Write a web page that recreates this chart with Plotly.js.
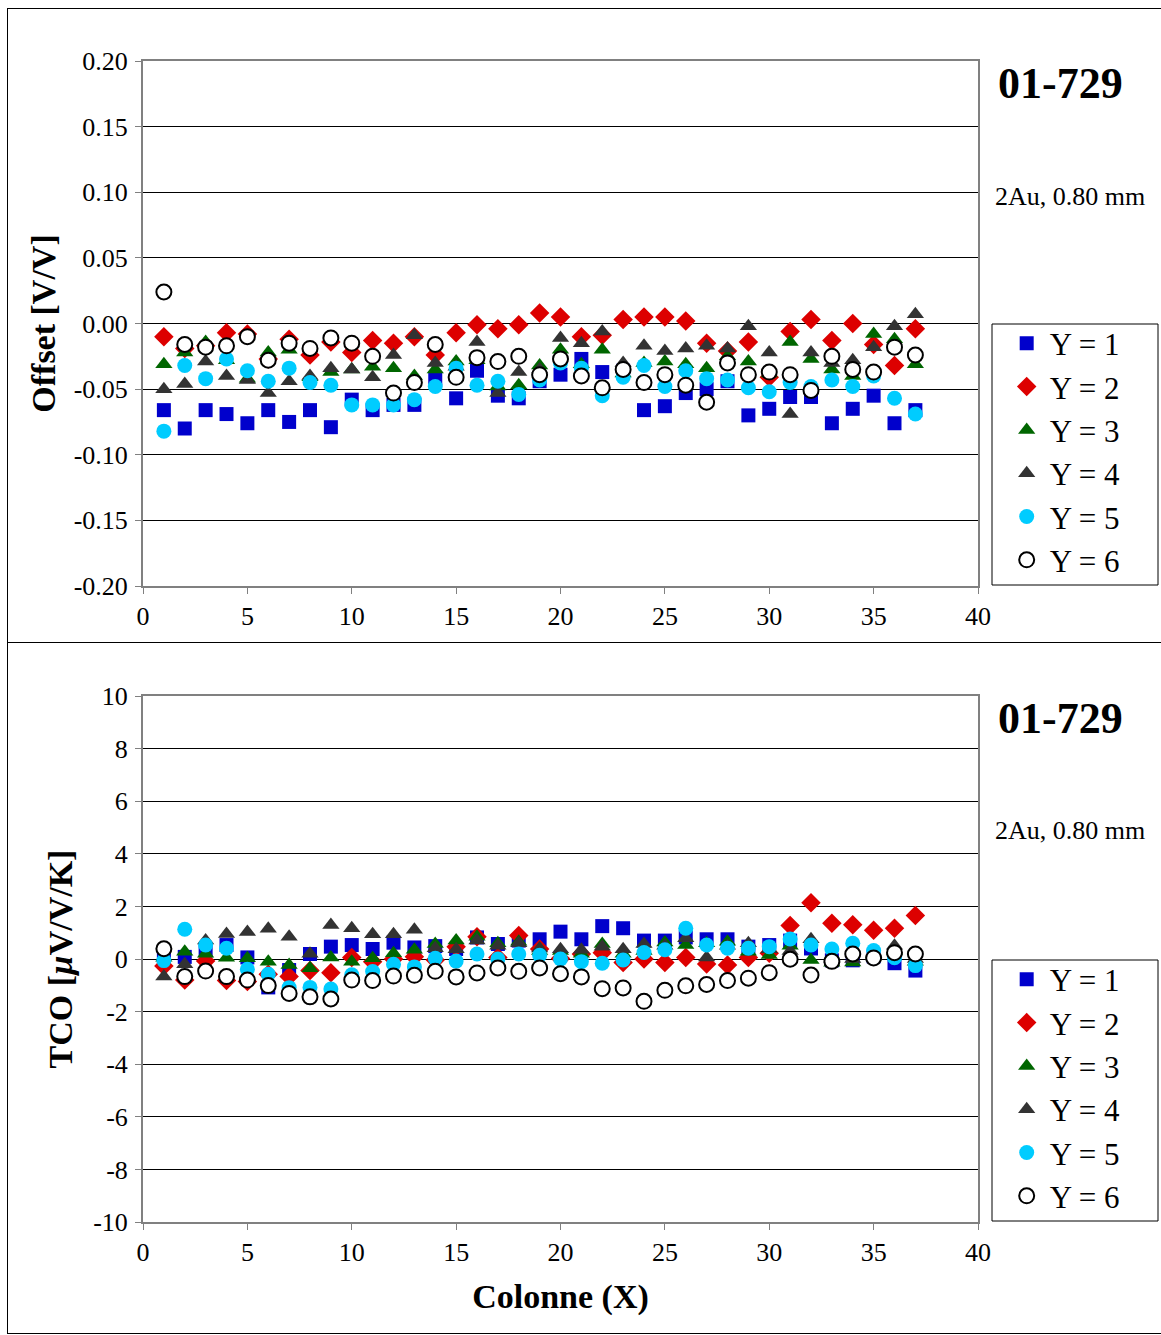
<!DOCTYPE html>
<html><head><meta charset="utf-8">
<script src="https://cdn.plot.ly/plotly-3.0.1.min.js"></script>
<style>
html,body{margin:0;padding:0;background:#fff;width:1161px;height:1335px;overflow:hidden;}
.frame{position:absolute;border:1px solid #000;border-right:none;box-sizing:border-box;}
.plot{position:absolute;left:0;}
</style></head><body>
<div class="frame" style="left:7px;top:8px;width:1160px;height:635px;"></div>
<div class="frame" style="left:7px;top:642px;width:1160px;height:692px;"></div>
<div id="top" class="plot" style="top:0;width:1161px;height:643px;"></div>
<div id="bot" class="plot" style="top:643px;width:1161px;height:692px;"></div>
<script>
const colonne = [1,2,3,4,5,6,7,8,9,10,11,12,13,14,15,16,17,18,19,20,21,22,23,24,25,26,27,28,29,30,31,32,33,34,35,36,37];
const seriesNames = ["Y = 1","Y = 2","Y = 3","Y = 4","Y = 5","Y = 6"];

const offY1 = [-0.066,-0.080,-0.066,-0.069,-0.076,-0.066,-0.075,-0.066,-0.079,-0.058,-0.066,-0.062,-0.062,-0.042,-0.057,-0.036,-0.055,-0.057,-0.044,-0.039,-0.027,-0.037,-0.036,-0.066,-0.063,-0.053,-0.050,-0.044,-0.070,-0.065,-0.056,-0.056,-0.076,-0.065,-0.055,-0.076,-0.066];
const offY2 = [-0.010,-0.019,-0.017,-0.007,-0.008,-0.027,-0.012,-0.024,-0.014,-0.022,-0.013,-0.015,-0.010,-0.024,-0.007,-0.001,-0.004,-0.001,0.008,0.005,-0.010,-0.009,0.003,0.005,0.005,0.002,-0.015,-0.021,-0.014,-0.041,-0.006,0.003,-0.013,0.000,-0.016,-0.032,-0.004];
const offY3 = [-0.031,-0.022,-0.014,-0.028,-0.042,-0.022,-0.020,-0.041,-0.037,-0.035,-0.033,-0.034,-0.040,-0.035,-0.029,-0.028,-0.048,-0.047,-0.032,-0.020,-0.031,-0.020,-0.038,-0.030,-0.029,-0.031,-0.034,-0.025,-0.029,-0.038,-0.014,-0.027,-0.035,-0.040,-0.008,-0.012,-0.031];
const offY4 = [-0.050,-0.046,-0.029,-0.040,-0.043,-0.053,-0.044,-0.040,-0.034,-0.035,-0.041,-0.024,-0.009,-0.030,-0.033,-0.014,-0.053,-0.037,-0.035,-0.011,-0.015,-0.006,-0.030,-0.017,-0.021,-0.019,-0.017,-0.019,-0.002,-0.022,-0.069,-0.022,-0.030,-0.028,-0.018,-0.002,0.007];
const offY5 = [-0.082,-0.032,-0.042,-0.027,-0.036,-0.044,-0.034,-0.045,-0.047,-0.062,-0.062,-0.062,-0.058,-0.048,-0.034,-0.047,-0.044,-0.054,-0.043,-0.030,-0.034,-0.055,-0.041,-0.032,-0.048,-0.036,-0.042,-0.043,-0.049,-0.052,-0.045,-0.048,-0.043,-0.048,-0.040,-0.057,-0.069];
const offY6 = [0.024,-0.016,-0.018,-0.017,-0.010,-0.028,-0.015,-0.019,-0.011,-0.015,-0.025,-0.053,-0.045,-0.016,-0.041,-0.026,-0.029,-0.025,-0.039,-0.027,-0.040,-0.049,-0.035,-0.045,-0.039,-0.047,-0.060,-0.030,-0.039,-0.037,-0.039,-0.051,-0.025,-0.035,-0.037,-0.018,-0.024];

const tcoY1 = [0.05,0.08,0.32,0.53,0.06,-1.08,-0.42,0.19,0.47,0.53,0.38,0.62,0.44,0.49,0.38,0.82,0.57,0.70,0.75,1.04,0.75,1.25,1.17,0.70,0.70,0.82,0.75,0.75,0.47,0.53,0.70,0.40,-0.05,-0.05,0.10,-0.16,-0.44];
const tcoY2 = [-0.27,-0.80,-0.08,-0.82,-0.86,-0.58,-0.67,-0.44,-0.52,0.06,-0.10,0.00,0.09,-0.04,0.47,0.85,0.06,0.89,0.38,0.02,0.19,0.24,-0.13,0.00,-0.13,0.06,-0.19,-0.23,0.06,0.22,1.27,2.14,1.36,1.30,1.09,1.17,1.65];
const tcoY3 = [0.05,0.28,0.20,0.05,0.03,-0.10,-0.23,-0.35,0.06,-0.10,0.03,0.22,0.35,0.57,0.70,0.85,0.60,0.66,0.30,0.30,0.20,0.57,0.20,0.30,0.63,0.53,0.60,0.66,0.28,0.15,0.50,-0.04,-0.14,-0.13,0.20,0.30,-0.10];
const tcoY4 = [-0.67,-0.20,0.70,0.95,1.03,1.15,0.85,0.20,1.29,1.17,0.94,0.94,1.11,0.41,0.37,0.70,0.50,0.60,0.40,0.37,0.35,0.47,0.37,0.57,0.50,0.79,0.06,0.50,0.60,0.37,0.30,0.75,0.00,0.00,0.10,0.50,0.00];
const tcoY5 = [-0.06,1.13,0.53,0.41,-0.39,-0.58,-1.09,-1.08,-1.14,-0.60,-0.48,-0.20,-0.30,0.03,-0.08,0.19,0.00,0.19,0.14,0.00,-0.10,-0.16,-0.04,0.25,0.35,1.17,0.53,0.41,0.41,0.47,0.76,0.53,0.38,0.60,0.32,0.05,-0.25];
const tcoY6 = [0.39,-0.67,-0.46,-0.67,-0.80,-1.01,-1.31,-1.44,-1.52,-0.80,-0.82,-0.65,-0.62,-0.47,-0.68,-0.53,-0.34,-0.47,-0.34,-0.56,-0.68,-1.13,-1.10,-1.61,-1.19,-1.02,-0.97,-0.82,-0.73,-0.52,-0.01,-0.61,-0.09,0.19,0.04,0.24,0.19];

const xTickVals = [0,5,10,15,20,25,30,35,40];
const offTickVals = [0.20,0.15,0.10,0.05,0.00,-0.05,-0.10,-0.15,-0.20];
const offTickText = ["0.20","0.15","0.10","0.05","0.00","-0.05","-0.10","-0.15","-0.20"];
const tcoTickVals = [10,8,6,4,2,0,-2,-4,-6,-8,-10];
const tcoTickText = ["10","8","6","4","2","0","-2","-4","-6","-8","-10"];

const chartId = "01-729";
const chartSub = "2Au, 0.80 mm";

const markers = [
  {symbol:"square", color:"#0000CC", size:14, line:{width:0}},
  {symbol:"diamond", color:"#DD0000", size:15, line:{width:0}},
  {symbol:"triangle-up", color:"#006600", size:15, line:{width:0}},
  {symbol:"triangle-up", color:"#333333", size:15, line:{width:0}},
  {symbol:"circle", color:"#00CCFF", size:15, line:{width:0}},
  {symbol:"circle", color:"#FFFFFF", size:15, line:{width:2, color:"#000000"}}
];

const FONT = "Liberation Serif, Times New Roman, serif";

function traces(series){
  return series.map((ys,i)=>({
    type:"scatter", mode:"markers", x:colonne, y:ys, name:seriesNames[i],
    marker:markers[i], cliponaxis:false
  }));
}

function layout(opts){
  const plotH = opts.h - opts.t - opts.b;
  const legTopPx = opts.legTop;
  const legBotPx = opts.legBot;
  return {
    width:1161, height:opts.h,
    margin:{l:143, r:183, t:opts.t, b:opts.b},
    paper_bgcolor:"rgba(0,0,0,0)", plot_bgcolor:"#ffffff",
    font:{family:FONT, color:"#000", size:26},
    showlegend:true,
    legend:{x:(992-143)/835 + 0.014, xanchor:"left", y:1 - legTopPx/plotH + 0.014, yanchor:"top",
      font:{family:FONT, size:31, color:"#000"}, bgcolor:"rgba(0,0,0,0)", borderwidth:0,
      itemwidth:36, tracegroupgap:0},
    xaxis:{range:[0,40], tickmode:"array", tickvals:xTickVals, ticktext:xTickVals.map(String),
      showgrid:false, zeroline:false, showline:true, linecolor:"#808080", linewidth:2, mirror:true,
      ticks:"outside", ticklen:6, tickcolor:"#808080", tickwidth:1,
      tickfont:{family:FONT, size:26, color:"#000"}, ticklabelstandoff:0,
      title:{text:opts.xtitle || "", font:{family:FONT, size:34, color:"#000", weight:"bold"}, standoff:18}},
    yaxis:{range:opts.yrange, tickmode:"array", tickvals:opts.tickvals, ticktext:opts.ticktext,
      showgrid:true, gridcolor:"#000000", gridwidth:1, zeroline:false,
      showline:true, linecolor:"#808080", linewidth:2, mirror:true,
      ticks:"outside", ticklen:6, tickcolor:"#808080", tickwidth:1,
      tickfont:{family:FONT, size:26, color:"#000"}, ticklabelstandoff:2,
      title:{text:opts.ytitle, font:{family:FONT, size:34, color:"#000", weight:"bold"}, standoff:opts.ystandoff}},
    shapes:[{type:"rect", xref:"paper", yref:"paper",
      x0:(992-143)/835, x1:(1158-143)/835, y0:1 - legBotPx/plotH, y1:1 - legTopPx/plotH,
      line:{color:"#000", width:1}, fillcolor:"rgba(0,0,0,0)"}],
    annotations:[
      {xref:"paper", yref:"paper", x:(1060-143)/835, y:1 - opts.idY/plotH, text:"<b>"+chartId+"</b>",
       showarrow:false, font:{family:FONT, size:44, color:"#000"}, xanchor:"center", yanchor:"middle"},
      {xref:"paper", yref:"paper", x:(1070-143)/835, y:1 - opts.subY/plotH, text:chartSub,
       showarrow:false, font:{family:FONT, size:26, color:"#000"}, xanchor:"center", yanchor:"middle"}
    ]
  };
}

Plotly.newPlot("top", traces([offY1,offY2,offY3,offY4,offY5,offY6]), layout({
  h:643, t:61, b:57, yrange:[-0.20,0.20], tickvals:offTickVals, ticktext:offTickText,
  ytitle:"Offset [V/V]", ystandoff:8, legTop:324-61, legBot:585-61, idY:83-61, subY:197-61
}), {staticPlot:true});

Plotly.newPlot("bot", traces([tcoY1,tcoY2,tcoY3,tcoY4,tcoY5,tcoY6]), layout({
  h:692, t:53, b:113, yrange:[-10,10], tickvals:tcoTickVals, ticktext:tcoTickText,
  ytitle:"TCO [<i>µ</i>V/V/K]", ystandoff:10, xtitle:"Colonne (X)",
  legTop:960-696, legBot:1221-696, idY:718-696, subY:831-696
}), {staticPlot:true});
</script>
</body></html>
